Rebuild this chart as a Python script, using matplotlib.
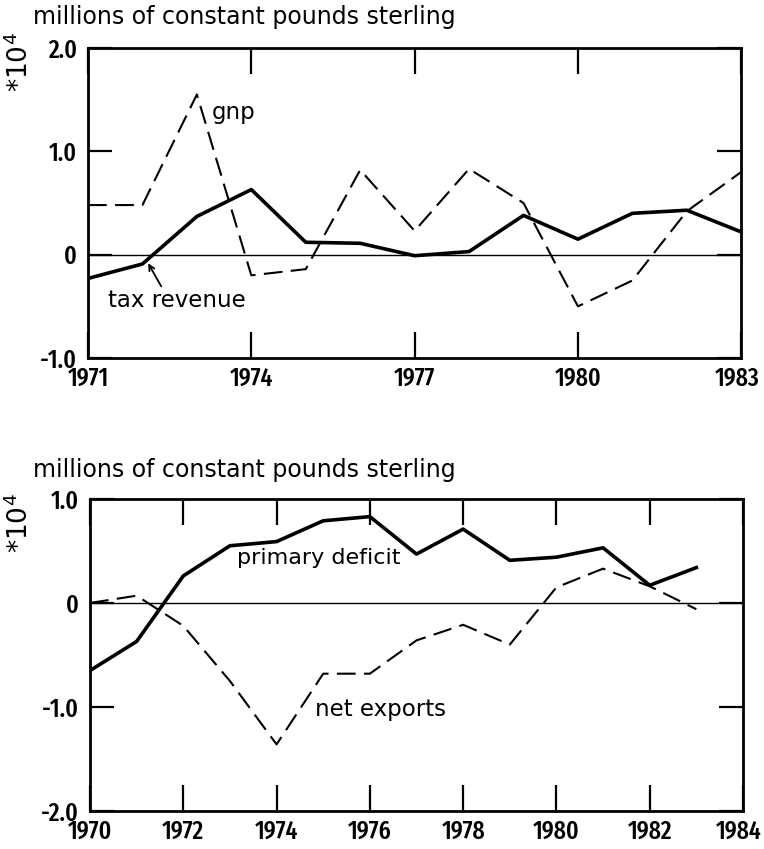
import matplotlib
matplotlib.use("Agg")
import matplotlib.pyplot as plt
from matplotlib import font_manager
from matplotlib.font_manager import FontProperties
from matplotlib.transforms import ScaledTranslation

# pick the narrowest condensed font file that is installed (medium-ish weight preferred)
cands = []
for f in font_manager.fontManager.ttflist:
    fn = f.fname.lower().split("/")[-1]
    if ("condensed" in fn or "narrow" in fn) and "italic" not in fn and "oblique" not in fn:
        score = 0.0
        if "semicondensed" in fn or "semi-condensed" in fn:
            score += 1
        if "extracondensed" in fn or "ultracondensed" in fn:
            score -= 2
        if "semibold" in fn or "medium" in fn:
            score += 0.0
        elif "extrabold" in fn or "black" in fn or "light" in fn or "thin" in fn:
            score += 2
        elif "bold" in fn:
            score += 0.6
        else:
            score += 0.3
        cands.append((score, f.fname))
cands.sort()
if cands:
    tick_fp = FontProperties(fname=cands[0][1], size=18.5)
else:
    tick_fp = FontProperties(family="DejaVu Sans", size=13, weight="bold")
textfont = "DejaVu Sans"

# ---- data (units of 10^4 millions of constant pounds sterling) ----
years_top = [1971, 1972, 1973, 1974, 1975, 1976, 1977, 1978, 1979, 1980, 1981, 1982, 1983]
gnp = [0.48, 0.48, 1.55, -0.20, -0.14, 0.82, 0.23, 0.83, 0.50, -0.50, -0.25, 0.42, 0.80]
tax_revenue = [-0.23, -0.09, 0.37, 0.63, 0.12, 0.11, -0.01, 0.03, 0.38, 0.15, 0.40, 0.43, 0.22]

years_bot = [1970, 1971, 1972, 1973, 1974, 1975, 1976, 1977, 1978, 1979, 1980, 1981, 1982, 1983]
primary_deficit = [-0.65, -0.37, 0.26, 0.55, 0.59, 0.79, 0.83, 0.47, 0.71, 0.41, 0.44, 0.53, 0.17, 0.34]
net_exports = [0.0, 0.07, -0.22, -0.75, -1.36, -0.68, -0.68, -0.36, -0.21, -0.40, 0.15, 0.33, 0.16, -0.06]

xticks_top = [1971, 1974, 1977, 1980, 1983]
yticks_top = [-1.0, 0.0, 1.0, 2.0]
ytick_labels_top = ["-1.0", "0", "1.0", "2.0"]
xticks_bot = [1970, 1972, 1974, 1976, 1978, 1980, 1982, 1984]
yticks_bot = [-2.0, -1.0, 0.0, 1.0]
ytick_labels_bot = ["-2.0", "-1.0", "0", "1.0"]

title_text = "millions of constant pounds sterling"
scale_text = r"*10$^4$"

fig = plt.figure(figsize=(7.64, 8.49), dpi=100)
ax1 = fig.add_axes([0.1152, 0.5783, 0.855, 0.3652])
ax2 = fig.add_axes([0.1178, 0.0448, 0.8547, 0.3675])


def style(ax, xt, yt, ytl):
    for s in ax.spines.values():
        s.set_linewidth(2.0)
    ax.set_xticks(xt)
    ax.set_xticklabels([str(x) for x in xt])
    ax.set_yticks(yt)
    ax.set_yticklabels(ytl)
    ax.tick_params(axis="both", direction="in", top=True, right=True, width=1.6)
    ax.tick_params(axis="x", length=19, pad=6)
    ax.tick_params(axis="y", length=17, pad=8)
    for lab in ax.get_xticklabels() + ax.get_yticklabels():
        lab.set_fontproperties(tick_fp)
    ax.axhline(0, color="black", lw=1.0, zorder=1)


# ---- top panel ----
ax1.plot(years_top, gnp, color="black", lw=1.5, dashes=(9, 4))
ax1.plot(years_top, tax_revenue, color="black", lw=2.6)
ax1.set_xlim(1971, 1983)
ax1.set_ylim(-1.0, 2.0)
style(ax1, xticks_top, yticks_top, ytick_labels_top)
ax1.text(1973.27, 1.38, "gnp", fontsize=16.5, family=textfont, va="center", ha="left")
ax1.text(1971.37, -0.44, "tax revenue", fontsize=16.5, family=textfont, va="center", ha="left")
ax1.annotate("", xy=(1972.08, -0.06), xytext=(1972.37, -0.33),
             arrowprops=dict(arrowstyle="->", lw=1.3, color="black"))

# ---- bottom panel ----
ax2.plot(years_bot, net_exports, color="black", lw=1.5, dashes=(9, 4))
ax2.plot(years_bot, primary_deficit, color="black", lw=2.6)
ax2.set_xlim(1970, 1984)
ax2.set_ylim(-2.0, 1.0)
style(ax2, xticks_bot, yticks_bot, ytick_labels_bot)
ax2.text(1973.15, 0.43, "primary deficit", fontsize=16, family=textfont, va="center", ha="left")
ax2.text(1974.83, -1.02, "net exports", fontsize=16.5, family=textfont, va="center", ha="left")

# nudge the right-most year labels so they stay inside the picture
for ax in (ax1, ax2):
    last = ax.get_xticklabels()[-1]
    last.set_transform(last.get_transform() + ScaledTranslation(-4 / 100, 0, fig.dpi_scale_trans))

# ---- titles and scale labels ----
fig.text(33 / 764, 1 - 17 / 849, title_text, fontsize=17, family=textfont, va="center", ha="left")
fig.text(33 / 764, 1 - 470 / 849, title_text, fontsize=17, family=textfont, va="center", ha="left")
fig.text(20 / 764, 1 - 62 / 849, scale_text, fontsize=19, family=textfont, rotation=90,
         va="center", ha="center")
fig.text(20 / 764, 1 - 523 / 849, scale_text, fontsize=19, family=textfont, rotation=90,
         va="center", ha="center")

fig.savefig("out.png", dpi=100)
